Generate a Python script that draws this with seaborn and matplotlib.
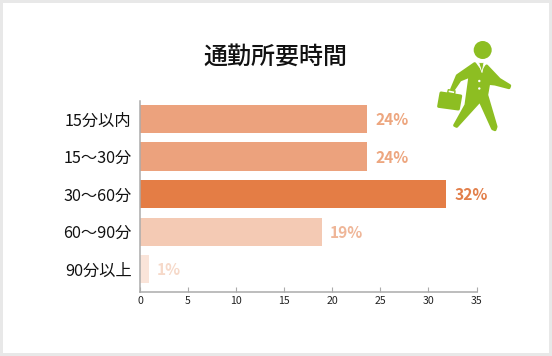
import matplotlib
matplotlib.use('Agg')
import matplotlib.pyplot as plt
from matplotlib.patches import Circle, Polygon, Rectangle
import pandas as pd
import seaborn as sns

categories = ['15分以内', '15〜30分', '30〜60分', '60〜90分', '90分以上']
values = [23.6, 23.6, 31.8, 18.9, 0.9]
value_labels = ['24%', '24%', '32%', '19%', '1%']
colors = ['#ECA27D', '#ECA27D', '#E47D45', '#F4CAB4', '#FAE4D9']
label_colors = ['#EDA67F', '#EDA67F', '#E27F4A', '#EFB698', '#F6D9C9']
xticks = [0, 5, 10, 15, 20, 25, 30, 35]

W, H = 552, 356

sns.set_theme(style='white')
plt.rcParams['font.family'] = ['Noto Sans CJK JP', 'DejaVu Sans']

fig = plt.figure(figsize=(W / 100, H / 100), dpi=100, facecolor='white')

# overlay in pixel coordinates for the frame and the icon
bg = fig.add_axes([0, 0, 1, 1], zorder=0)
bg.set_xlim(0, W)
bg.set_ylim(H, 0)
bg.axis('off')
bg.add_patch(Rectangle((0, 0), W, H, fc='#E8E8E8', ec='none'))
bg.add_patch(Rectangle((3, 3), 546, 350, fc='white', ec='none'))


def z(points):
    return [(400 + px / 3, 20 + py / 3) for px, py in points]


green = '#8DBE22'
round_edge = dict(fc=green, ec=green, lw=2.2, joinstyle='round')
bg.add_patch(Circle((482.7, 50), 9, fc=green, ec='none'))
bg.add_patch(Polygon(z([(224, 131), (172, 167), (155, 208), (160, 209), (180, 180), (210, 168),
                        (198, 255), (164, 316), (170, 319), (240, 242), (278, 326), (285, 329),
                        (288, 320), (260, 225), (266, 190), (285, 192), (327, 203), (329, 197),
                        (298, 178), (260, 138), (245, 160)]), **round_edge))
bg.add_patch(Polygon(z([(236, 128), (252, 128), (246, 158)]), fc=green, ec='white', lw=0.6))
bg.add_patch(Polygon(z([(123, 219), (182, 228), (175, 267), (116, 259)]), **round_edge))
bg.add_patch(Polygon(z([(145, 209), (165, 213), (164, 222), (143, 218)]), fc='white', ec=green, lw=1))
bg.add_patch(Circle((479.3, 81), 1.2, fc='white', ec='none'))
bg.add_patch(Circle((479.3, 88.5), 1.2, fc='white', ec='none'))

ax = fig.add_axes([140 / W, 1 - 292 / H, 336.5 / W, 191 / H], zorder=1)
ax.patch.set_alpha(0)

df = pd.DataFrame({'category': categories, 'value': values})
sns.barplot(data=df, x='value', y='category', hue='category', palette=colors,
            legend=False, width=0.75, saturation=1, linewidth=0, ax=ax)

ax.set_xlim(0, 35)
ax.set_ylim(4.61, -0.48)
ax.set_xlabel('')
ax.set_ylabel('')
ax.set_xticks(xticks)
sns.despine(ax=ax)
for side in ['left', 'bottom']:
    ax.spines[side].set_color('#ABABAB')
    ax.spines[side].set_linewidth(1.1)
ax.tick_params(axis='x', direction='in', length=3.6, width=0.8, color='#ABABAB',
               labelsize=7.6, labelcolor='#222222', pad=3, bottom=True)
ax.tick_params(axis='y', length=0, labelsize=11.7, labelcolor='#111111', pad=6)

for i, val in enumerate(values):
    ax.annotate(value_labels[i], (val, i), xytext=(6, -0.7), textcoords='offset points',
                va='center', ha='left', fontsize=11.2, fontweight='bold', color=label_colors[i])

fig.text(275.5 / W, 1 - 56.5 / H, '通勤所要時間', ha='center', va='center',
         fontsize=17.3, color='#111111', fontweight='medium')

fig.savefig('out.png', dpi=100)
